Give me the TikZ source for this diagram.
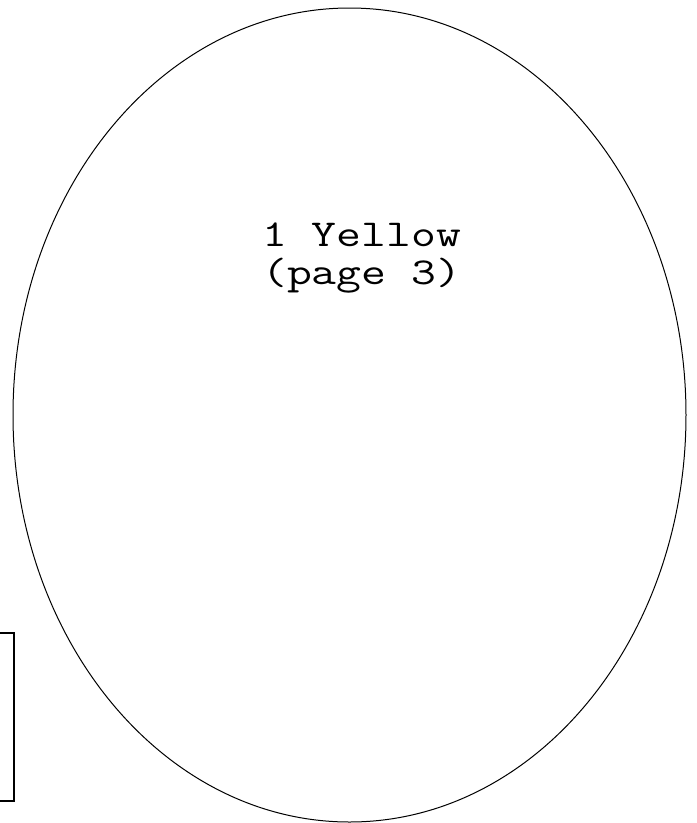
\documentclass[tikz,border=0pt]{standalone}
\usepackage{fontspec}
\usetikzlibrary{shapes.geometric}

\begin{document}
\begin{tikzpicture}[
    x=1pt, y=-1pt,
    page/.style={ellipse, draw, line width=1pt, minimum width=673pt, minimum height=814pt, inner sep=0pt},
    pagetext/.style={align=center, inner sep=0pt, anchor=north, font=\ttfamily\fontsize{38}{38}\selectfont},
    cluster/.style={rectangle, draw, line width=1.4pt, minimum width=40pt, minimum height=168pt, inner sep=0pt}
]
    \useasboundingbox (0,0) rectangle (697,823);
    \node[page] (yellow) at (349.5, 415) {};
    \node[pagetext] (yellowlabel) at (361.7, 223) {\scalebox{1.27}[1]{1 Yellow}\\\scalebox{1.27}[1]{(page 3)}};
    \node[cluster] (box) at (-6, 717) {};
\end{tikzpicture}
\end{document}
